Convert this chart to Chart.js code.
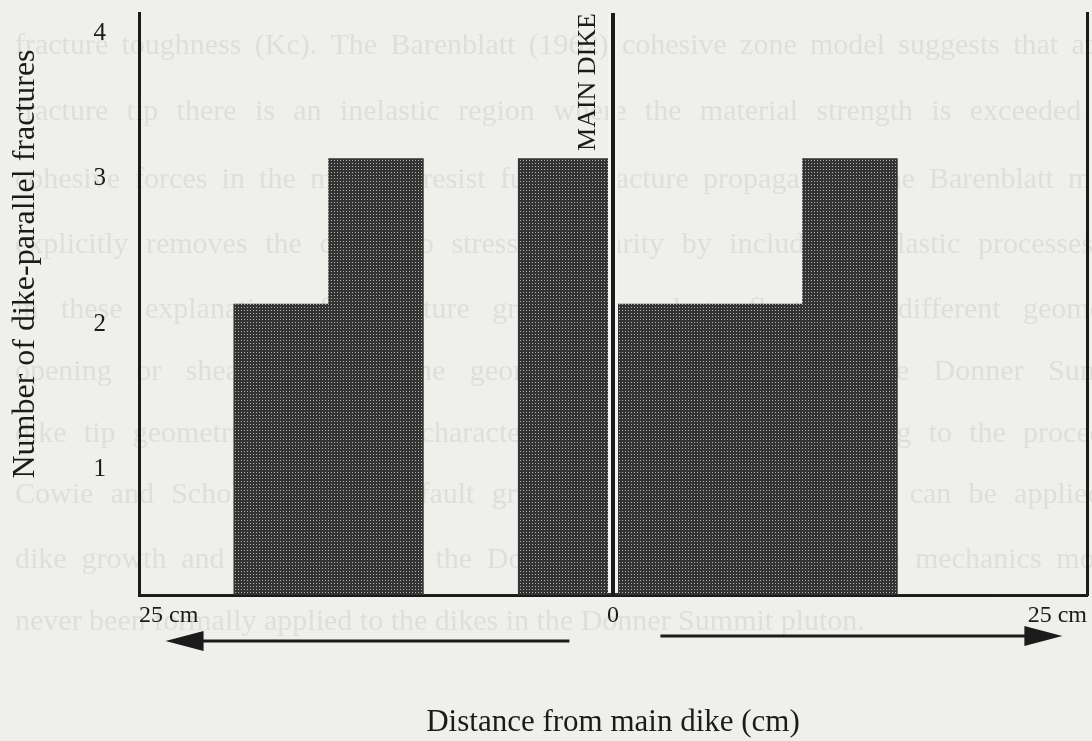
<!DOCTYPE html>
<html>
<head>
<meta charset="utf-8">
<title>Dike-parallel fractures</title>
<script src="https://cdn.jsdelivr.net/npm/chart.js@4.4.1/dist/chart.umd.min.js"></script>
<style>
  html, body { margin: 0; padding: 0; background: #efefec; }
  #wrap { width: 1092px; height: 741px; }
</style>
</head>
<body>
<div id="wrap"><canvas id="chart" width="1092" height="741"></canvas></div>
<script>
// 5 cm bins either side of the main dike
const binCenters = [-22.5, -17.5, -12.5, -7.5, -2.5, 2.5, 7.5, 12.5, 17.5, 22.5];
const fractureCounts = [0, 2, 3, 0, 3, 2, 2, 3, 0, 0];
const xTickLabels = { '-25': '25 cm', '0': '0', '25': '25 cm' };
const yTickValues = [1, 2, 3, 4];

// faint text showing through from the other side of the page
const showThrough = [
  'fracture toughness (Kc).  The Barenblatt (1962) cohesive zone model suggests that at the',
  'fracture tip there is an inelastic region where the material strength is exceeded and',
  'cohesive forces in the material resist further fracture propagation.  The Barenblatt model',
  'explicitly removes the crack tip stress singularity by including inelastic processes.  In',
  'in these explanations for fracture growth may be reflected in different geometric',
  'opening or shear fracture.  The geometries of the dikes in the Donner Summit',
  'dike tip geometries and other characteristics of the dikes, according to the procedure',
  'Cowie and Scholz (1992) for fault growth, the fracture mechanics can be applied to',
  'dike growth and propagation in the Donner Summit pluton.  Fracture mechanics models',
  'never been formally applied to the dikes in the Donner Summit pluton.'
];
const showThroughY = [46, 112, 180, 245, 310, 372, 434, 495, 560, 622];

const serif = '"Liberation Serif", "Times New Roman", serif';
const ink = '#1b1b1b';

function halftone() {
  const c = document.createElement('canvas');
  c.width = 3; c.height = 3;
  const g = c.getContext('2d');
  g.fillStyle = '#333333';
  g.fillRect(0, 0, 3, 3);
  g.fillStyle = '#b0b0b0';
  g.fillRect(1, 1, 1, 1);
  return g.createPattern(c, 'repeat');
}

const paper = {
  id: 'paper',
  beforeDraw(chart) {
    const ctx = chart.ctx;
    ctx.save();
    ctx.fillStyle = '#efefec';
    ctx.fillRect(0, 0, chart.width, chart.height);
    ctx.fillStyle = '#dededc';
    ctx.font = '30px ' + serif;
    ctx.textBaseline = 'middle';
    showThrough.forEach((line, i) => {
      const y = showThroughY[i];
      if (i === showThrough.length - 1) {
        ctx.fillText(line, 15, y);
        return;
      }
      // justified lines, running off the right edge of the scan
      const words = line.split(/\s+/);
      let total = 0;
      words.forEach(w => { total += ctx.measureText(w).width; });
      const gap = Math.max(8, (1128 - total) / (words.length - 1));
      let x = 15;
      words.forEach(w => {
        ctx.fillText(w, x, y);
        x += ctx.measureText(w).width + gap;
      });
    });
    ctx.restore();
  }
};

function arrow(ctx, tailX, tipX, y) {
  const dir = tipX > tailX ? 1 : -1;
  const headLen = 38, headHalf = 10;
  ctx.beginPath();
  ctx.moveTo(tailX, y);
  ctx.lineTo(tipX - dir * headLen + dir * 4, y);
  ctx.stroke();
  ctx.beginPath();
  ctx.moveTo(tipX, y);
  ctx.lineTo(tipX - dir * headLen, y - headHalf);
  ctx.lineTo(tipX - dir * headLen, y + headHalf);
  ctx.closePath();
  ctx.fill();
}

const overlay = {
  id: 'overlay',
  afterDatasetsDraw(chart) {
    const ctx = chart.ctx;
    const x = chart.scales.x;
    const area = chart.chartArea;
    const zero = x.getPixelForValue(0);
    ctx.save();
    // main dike line, with a thin clear margin on each side
    ctx.strokeStyle = '#f3f3f1';
    ctx.lineWidth = 10;
    ctx.beginPath();
    ctx.moveTo(zero, area.top);
    ctx.lineTo(zero, area.bottom - 2);
    ctx.stroke();
    ctx.strokeStyle = ink;
    ctx.lineWidth = 4;
    ctx.beginPath();
    ctx.moveTo(zero, area.top);
    ctx.lineTo(zero, area.bottom);
    ctx.stroke();

    ctx.fillStyle = ink;
    ctx.font = '26px ' + serif;
    ctx.translate(zero - 25, 82);
    ctx.rotate(-Math.PI / 2);
    ctx.textAlign = 'center';
    ctx.textBaseline = 'middle';
    ctx.fillText('MAIN DIKE', 0, 0);
    ctx.restore();
  },
  afterDraw(chart) {
    const ctx = chart.ctx;
    const x = chart.scales.x;
    ctx.save();
    ctx.strokeStyle = ink;
    ctx.fillStyle = ink;
    ctx.lineWidth = 3;
    arrow(ctx, x.getPixelForValue(-2.3), x.getPixelForValue(-23.6), 641);
    arrow(ctx, x.getPixelForValue(2.5), x.getPixelForValue(23.7), 636);

    ctx.font = '32px ' + serif;
    ctx.textAlign = 'center';
    ctx.textBaseline = 'middle';
    ctx.translate(26, 264);
    ctx.rotate(-Math.PI / 2);
    ctx.fillText('Number of dike-parallel fractures', 0, 0);
    ctx.restore();
  }
};

function noPadding(s) {
  s.paddingTop = 0;
  s.paddingBottom = 0;
  s.paddingLeft = 0;
  s.paddingRight = 0;
}

const chart = new Chart(document.getElementById('chart'), {
  type: 'bar',
  data: {
    datasets: [{
      data: binCenters.map((c, i) => ({ x: c, y: fractureCounts[i] })),
      backgroundColor: halftone(),
      borderWidth: 0,
      barPercentage: 1.0,
      categoryPercentage: 1.0
    }]
  },
  options: {
    responsive: false,
    animation: false,
    devicePixelRatio: 1,
    layout: { padding: { top: 13, right: 5, left: 0, bottom: 0 } },
    plugins: {
      legend: { display: false },
      tooltip: { enabled: false }
    },
    scales: {
      x: {
        type: 'linear',
        min: -25,
        max: 25,
        offset: false,
        grid: { display: false, drawTicks: false },
        border: { display: true, color: ink, width: 3 },
        ticks: {
          stepSize: 25,
          autoSkip: false,
          maxRotation: 0,
          align: 'inner',
          padding: 6,
          color: ink,
          font: { family: serif, size: 24 },
          callback: v => xTickLabels[String(v)] ?? ''
        },
        title: {
          display: true,
          text: 'Distance from main dike (cm)',
          color: ink,
          font: { family: serif, size: 31 },
          padding: { top: 0, bottom: 0 }
        },
        afterFit: s => { s.height = 146; noPadding(s); }
      },
      y: {
        min: 0,
        max: 4,
        position: 'left',
        grid: { display: false, drawTicks: false },
        border: { display: true, color: ink, width: 3 },
        ticks: {
          stepSize: 1,
          padding: 33,
          labelOffset: 20,
          color: ink,
          font: { family: serif, size: 25 },
          callback: v => yTickValues.includes(v) ? String(v) : ''
        },
        afterFit: s => { s.width = 139; noPadding(s); }
      },
      yRight: {
        position: 'right',
        min: 0,
        max: 4,
        grid: { display: false, drawTicks: false },
        border: { display: true, color: ink, width: 3 },
        ticks: { display: false },
        afterFit: s => { s.width = 0; noPadding(s); }
      }
    }
  },
  plugins: [paper, overlay]
});
</script>
</body>
</html>
